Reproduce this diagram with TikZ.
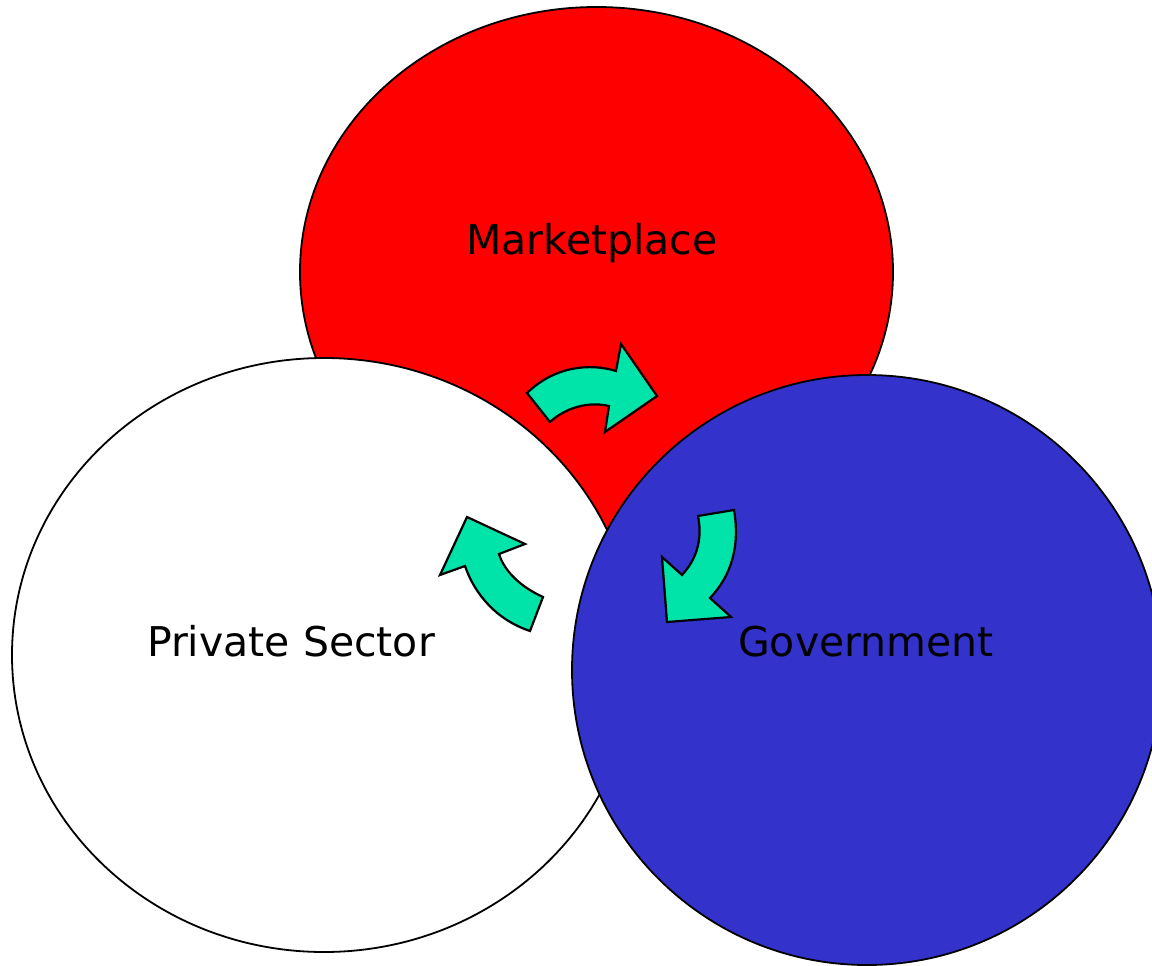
\documentclass[tikz,border=0pt]{standalone}
\usepackage{fontspec}
\setmainfont{DejaVu Sans}
\usetikzlibrary{shapes.geometric}
\definecolor{mred}{RGB}{255,0,0}
\definecolor{gblue}{RGB}{51,51,204}
\definecolor{agreen}{RGB}{0,228,170}
\tikzset{
  circ/.style={ellipse, draw=black, line width=1.8pt, inner sep=0pt, outer sep=0pt},
  lbl/.style={anchor=base, font=\fontsize{41}{41}\selectfont, text=black, inner sep=0pt},
  cyc/.style={fill=agreen, draw=black, line width=2.2pt, line join=miter}
}
\begin{document}
\begin{tikzpicture}[x=1pt,y=-1pt]
\useasboundingbox (0,0) rectangle (1152,966);
\clip (0,0) rectangle (1152,966);
\node[circ, fill=mred, minimum width=593pt, minimum height=530pt] (market) at (596.5,272) {};
\node[circ, fill=white, minimum width=624pt, minimum height=594pt] (private) at (324,655) {};
\node[circ, fill=gblue, minimum width=590pt, minimum height=590pt] (gov) at (867,670) {};
\node[lbl] (tm) at (592,254) {Marketplace};
\node[lbl] (tp) at (291,656) {Private Sector};
\node[lbl] (tg) at (866,656) {Government};
% arrow Marketplace -> Government
\draw[cyc] (527,393) .. controls (555,366) and (590,363) .. (616,371)
  -- (621,344) -- (657,396) -- (605,432) -- (609,406)
  .. controls (588,401) and (565,408) .. (550,422) -- cycle;
% arrow into Government
\draw[cyc] (734,510) .. controls (740,545) and (732,575) .. (710,598)
  -- (731,617) -- (667,622) -- (662,557) -- (682,575)
  .. controls (696,560) and (703,540) .. (698,516) -- cycle;
% arrow into Private Sector
\draw[cyc] (543,597) .. controls (523,588) and (505,573) .. (499,554)
  -- (525,544) -- (467,517) -- (440,575) -- (465,566)
  .. controls (475,595) and (497,620) .. (530,631) -- cycle;
\end{tikzpicture}
\end{document}
